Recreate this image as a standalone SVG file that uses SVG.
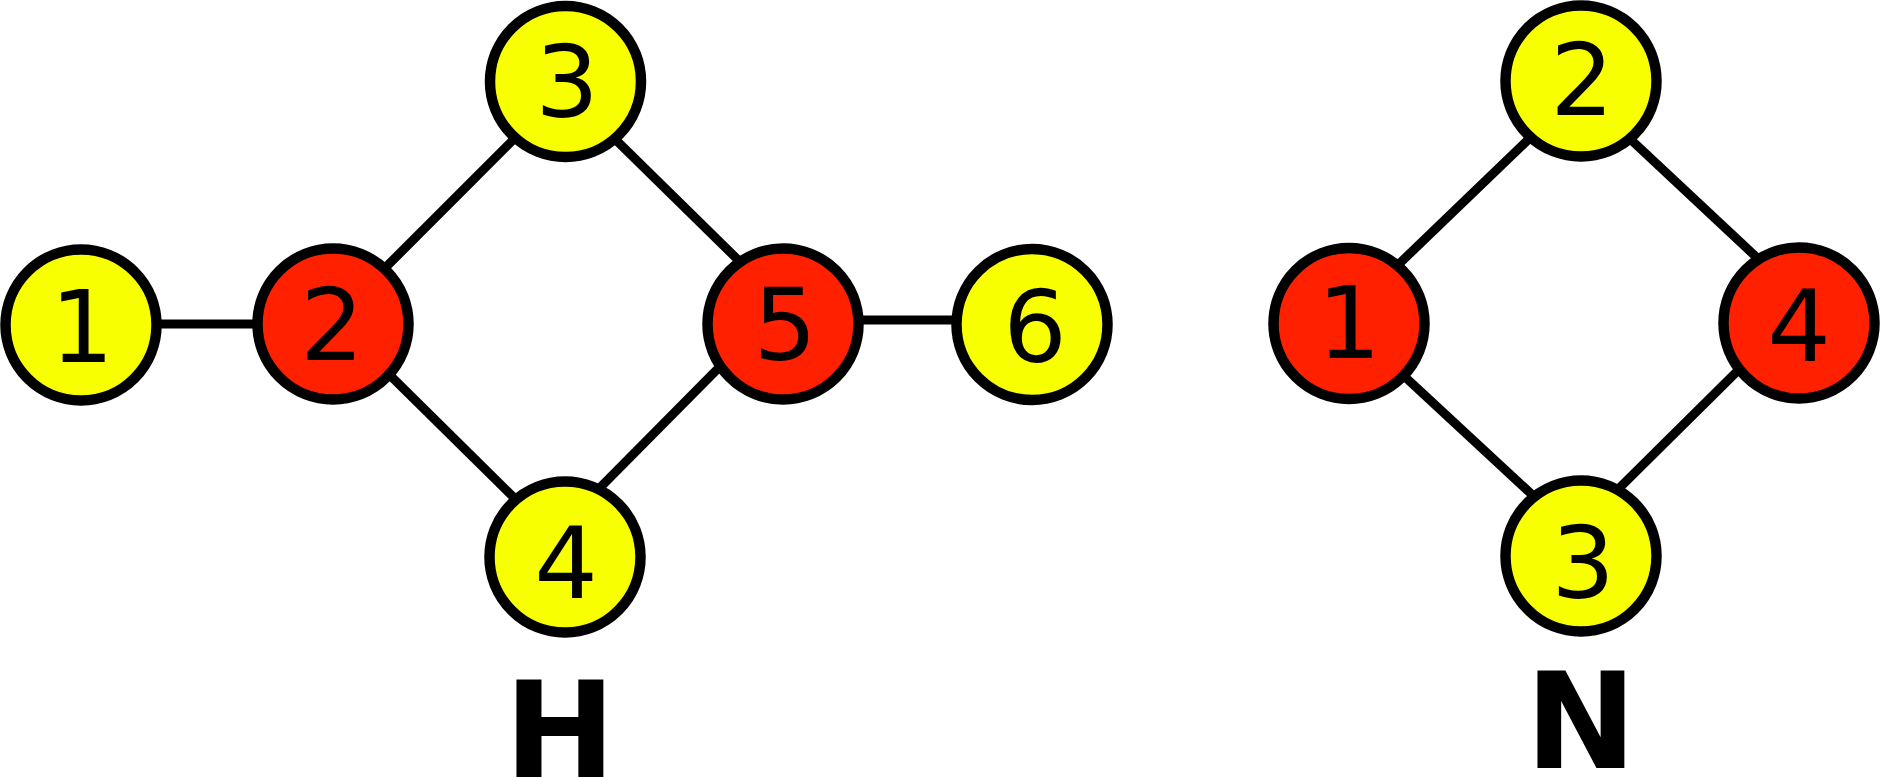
<svg xmlns="http://www.w3.org/2000/svg" width="1880" height="777" viewBox="0 0 1880 777">
<style>
.edge{stroke:#000;stroke-width:9;fill:none}
.y{fill:#f8ff00;stroke:#000;stroke-width:10.5}
.r{fill:#ff2000;stroke:#000;stroke-width:10.5}
.lbl{font-family:"DejaVu Sans",sans-serif;font-size:100px;text-anchor:middle;fill:#000}
.title{font-family:"DejaVu Sans",sans-serif;font-size:133px;font-weight:bold;text-anchor:middle;fill:#000}
</style>
<rect width="1880" height="777" fill="#fff"/>
<g id="connectors">
<line class="edge" x1="81" y1="324" x2="333" y2="324"/>
<line class="edge" x1="333" y1="320" x2="565" y2="88"/>
<line class="edge" x1="565" y1="90" x2="783" y2="304"/>
<line class="edge" x1="333" y1="319" x2="565" y2="548"/>
<line class="edge" x1="783" y1="303" x2="565" y2="523"/>
<line class="edge" x1="783" y1="320" x2="1032" y2="320"/>
<line class="edge" x1="1349" y1="312" x2="1581" y2="89"/>
<line class="edge" x1="1581" y1="93" x2="1799" y2="297"/>
<line class="edge" x1="1349" y1="325" x2="1581" y2="540"/>
<line class="edge" x1="1799" y1="310" x2="1581" y2="526"/>
</g>
<g id="H1"><circle class="y" cx="81" cy="325" r="75.5"/><text class="lbl" x="82" y="362">1</text></g>
<g id="H2"><circle class="r" cx="333" cy="324" r="75.5"/><text class="lbl" x="332" y="360">2</text></g>
<g id="H3"><circle class="y" cx="565.5" cy="81.5" r="75.5"/><text class="lbl" x="567" y="117">3</text></g>
<g id="H4"><circle class="y" cx="565" cy="557" r="75.5"/><text class="lbl" x="566" y="598">4</text></g>
<g id="H5"><circle class="r" cx="783" cy="324" r="75.5"/><text class="lbl" x="785" y="360">5</text></g>
<g id="H6"><circle class="y" cx="1032" cy="324.5" r="75.5"/><text class="lbl" x="1035" y="362">6</text></g>
<g id="N1"><circle class="r" cx="1349" cy="323.5" r="75.5"/><text class="lbl" x="1349" y="358">1</text></g>
<g id="N2"><circle class="y" cx="1581" cy="81" r="75.5"/><text class="lbl" x="1582" y="115">2</text></g>
<g id="N3"><circle class="y" cx="1581" cy="556" r="75.5"/><text class="lbl" x="1583" y="598">3</text></g>
<g id="N4"><circle class="r" cx="1799" cy="323" r="75.5"/><text class="lbl" x="1799" y="361">4</text></g>
<text class="title" x="560" y="777">H</text>
<text class="title" x="1581" y="768">N</text>
</svg>
